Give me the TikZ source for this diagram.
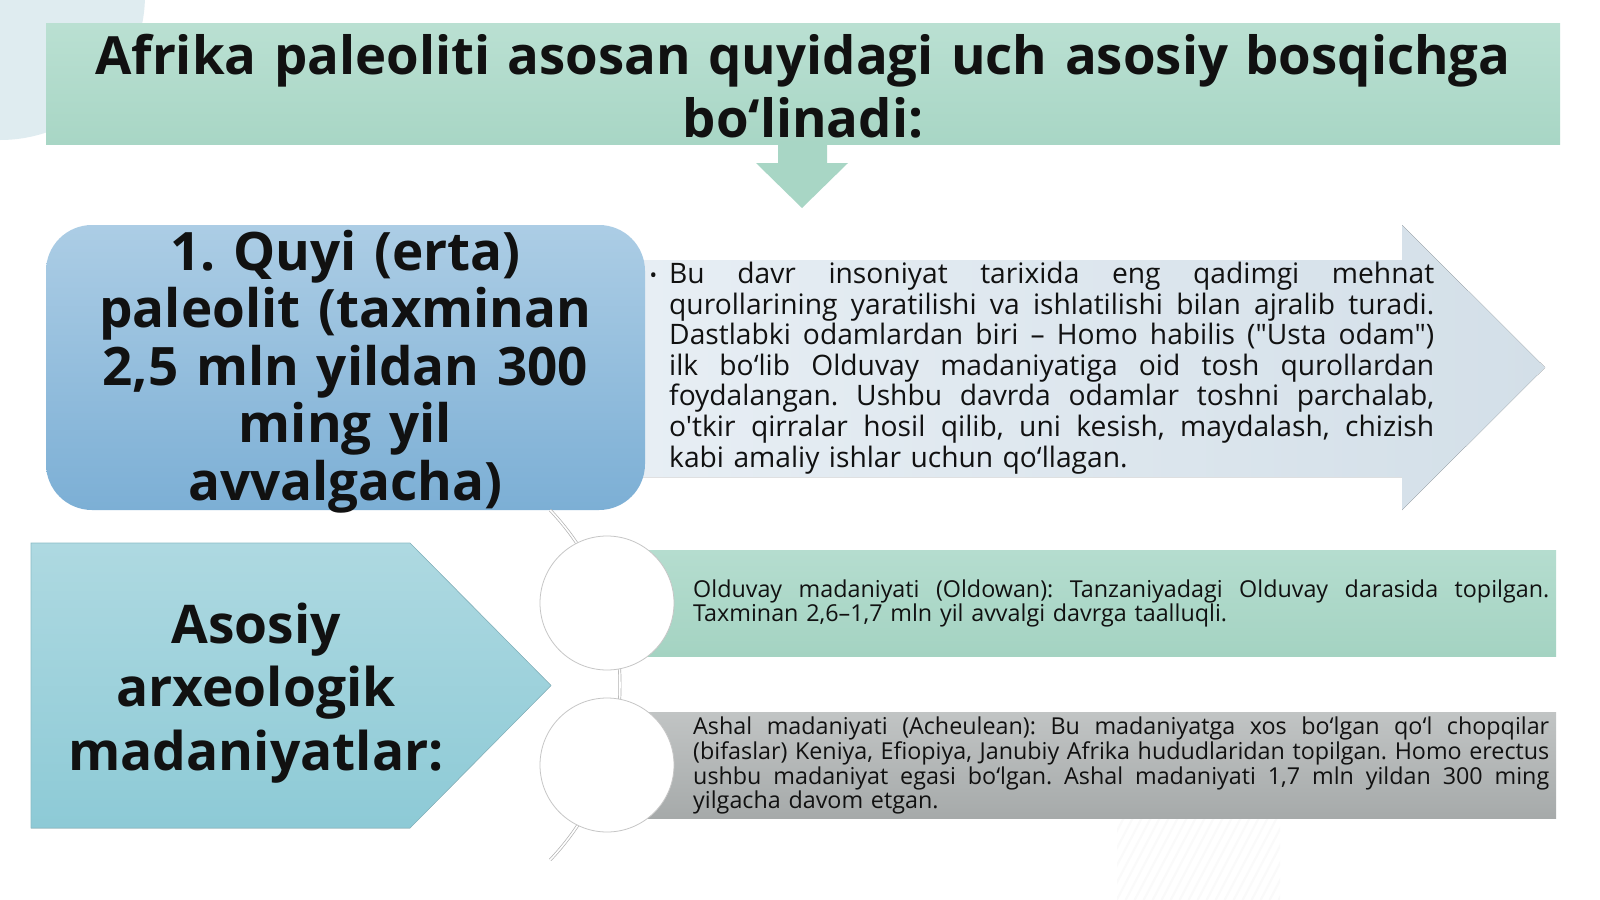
\documentclass[tikz,border=0pt]{standalone}
\usepackage{fontspec}
\setmainfont{Open Sans}[Ligatures=TeXOff]
\usetikzlibrary{calc}
\frenchspacing

\definecolor{blobblue}{RGB}{223,236,240}
\definecolor{minttop}{RGB}{186,224,210}
\definecolor{mintbot}{RGB}{168,214,197}
\definecolor{stagetop}{RGB}{172,205,229}
\definecolor{stagebot}{RGB}{124,175,213}
\definecolor{arrowleft}{RGB}{231,238,244}
\definecolor{arrowright}{RGB}{211,223,232}
\definecolor{tealtop}{RGB}{174,217,225}
\definecolor{tealbot}{RGB}{141,202,214}
\definecolor{bartop}{RGB}{181,221,207}
\definecolor{barbot}{RGB}{164,211,194}
\definecolor{greytop}{RGB}{193,196,196}
\definecolor{greybot}{RGB}{166,170,170}
\definecolor{ink}{RGB}{17,17,17}

% one justified line of fixed width
\newcommand\jline[1]{\hbox to \linewidth{\spaceskip=.26em plus 1fil\relax #1}}

\tikzset{
  bigtext/.style={text=ink, inner sep=0, align=center, font=\bfseries},
  smalltext/.style={text=ink, inner sep=0, anchor=base west},
  disc/.style={circle, draw=gray!45, line width=0.8pt, fill=white, minimum size=134pt, inner sep=0},
  link/.style={draw=gray!60, double=white, double distance=1.6pt, line width=0.7pt}
}

\begin{document}
\begin{tikzpicture}[x=1pt, y=-1pt]
\useasboundingbox (0,0) rectangle (1600,899);
\fill[white] (0,0) rectangle (1600,899);
\fill[blobblue] (0,-5) circle (145pt);
% faint hatching bottom
\begin{scope}
 \clip (1117,818) rectangle (1280,899);
 \foreach \i in {0,...,24}
  \draw[gray!4, line width=2pt] (1060+\i*9,905) --++(50,-95);
\end{scope}

% title banner
\node[rectangle, top color=minttop, bottom color=mintbot, minimum width=1514pt, minimum height=120pt, inner sep=0] (banner) at (803,84) {};
\node[bigtext, text width=1500pt, anchor=base, font=\fontsize{52.7}{63}\selectfont\bfseries] (title) at (803,74.5)
  {Afrika paleoliti asosan quyidagi uch asosiy bosqichga\\bo‘linadi:};
\fill[mintbot] (778,144) -- (827,144) -- (827,163) -- (848,163) -- (802,208) -- (756,163) -- (778,163) -- cycle;

% big arrow behind the first stage
\fill[left color=arrowleft, right color=arrowright]
  (640,260) -- (1402,260) -- (1402,225) -- (1545,367.5) -- (1402,510) -- (1402,477) -- (640,477) -- cycle;
\node[rectangle, rounded corners=46pt, top color=stagetop, bottom color=stagebot,
  minimum width=599pt, minimum height=285pt, inner sep=0] (stage) at (345.5,367.5) {};
\node[bigtext, text width=590pt, anchor=base, font=\fontsize{53}{57.5}\selectfont\bfseries] (stagetext) at (345.5,270)
  {1. Quyi (erta)\\paleolit (taxminan\\2,5 mln yildan 300\\ming yil\\avvalgacha)};
\node[smalltext, text width=765pt, font=\fontsize{28.2}{30.6}\selectfont] (desc) at (669,283.5) {%
  \jline{\llap{\raisebox{1pt}{\fontsize{20}{20}\selectfont•}\hspace{12pt}}Bu davr insoniyat tarixida eng qadimgi mehnat}
  \jline{qurollarining yaratilishi va ishlatilishi bilan ajralib turadi.}
  \jline{Dastlabki odamlardan biri – Homo habilis ("Usta odam")}
  \jline{ilk bo‘lib Olduvay madaniyatiga oid tosh qurollardan}
  \jline{foydalangan. Ushbu davrda odamlar toshni parchalab,}
  \jline{o'tkir qirralar hosil qilib, uni kesish, maydalash, chizish}
  \hbox{kabi amaliy ishlar uchun qo‘llagan.}};

% curved spine through the discs
\draw[link] (366,685) ++(-43.5:254) arc[start angle=-43.5, end angle=43.5, radius=254];

% cultures
\fill[top color=tealtop, bottom color=tealbot]
  (31,543) -- (410,543) -- (551,685.5) -- (410,828) -- (31,828) -- cycle;
\draw[tealbot!80!gray, line width=0.6pt] (31,543) -- (410,543) -- (551,685.5) -- (410,828) -- (31,828) -- cycle;
\node[bigtext, text width=520pt, anchor=base, font=\fontsize{53.3}{63.5}\selectfont\bfseries] (cultures) at (256,643)
  {Asosiy\\arxeologik\\madaniyatlar:};

\node[rectangle, top color=bartop, bottom color=barbot, minimum width=949pt, minimum height=106pt, inner sep=0] (oldbar) at (1081.5,603) {};
\node[rectangle, top color=greytop, bottom color=greybot, minimum width=949pt, minimum height=106pt, inner sep=0] (ashbar) at (1081.5,765) {};
\node[disc] (c1) at (607,603) {};
\node[disc] (c2) at (607,765) {};

\node[smalltext, text width=856pt, font=\fontsize{23.3}{24.6}\selectfont] (oldtext) at (693,597) {%
  \jline{Olduvay madaniyati (Oldowan): Tanzaniyadagi Olduvay darasida topilgan.}
  \hbox{Taxminan 2,6–1,7 mln yil avvalgi davrga taalluqli.}};
\node[smalltext, text width=856pt, font=\fontsize{23.3}{24.8}\selectfont] (ashtext) at (693,734.5) {%
  \jline{Ashal madaniyati (Acheulean): Bu madaniyatga xos bo‘lgan qo‘l chopqilar}
  \jline{(bifaslar) Keniya, Efiopiya, Janubiy Afrika hududlaridan topilgan. Homo erectus}
  \jline{ushbu madaniyat egasi bo‘lgan. Ashal madaniyati 1,7 mln yildan 300 ming}
  \hbox{yilgacha davom etgan.}};
\end{tikzpicture}
\end{document}
